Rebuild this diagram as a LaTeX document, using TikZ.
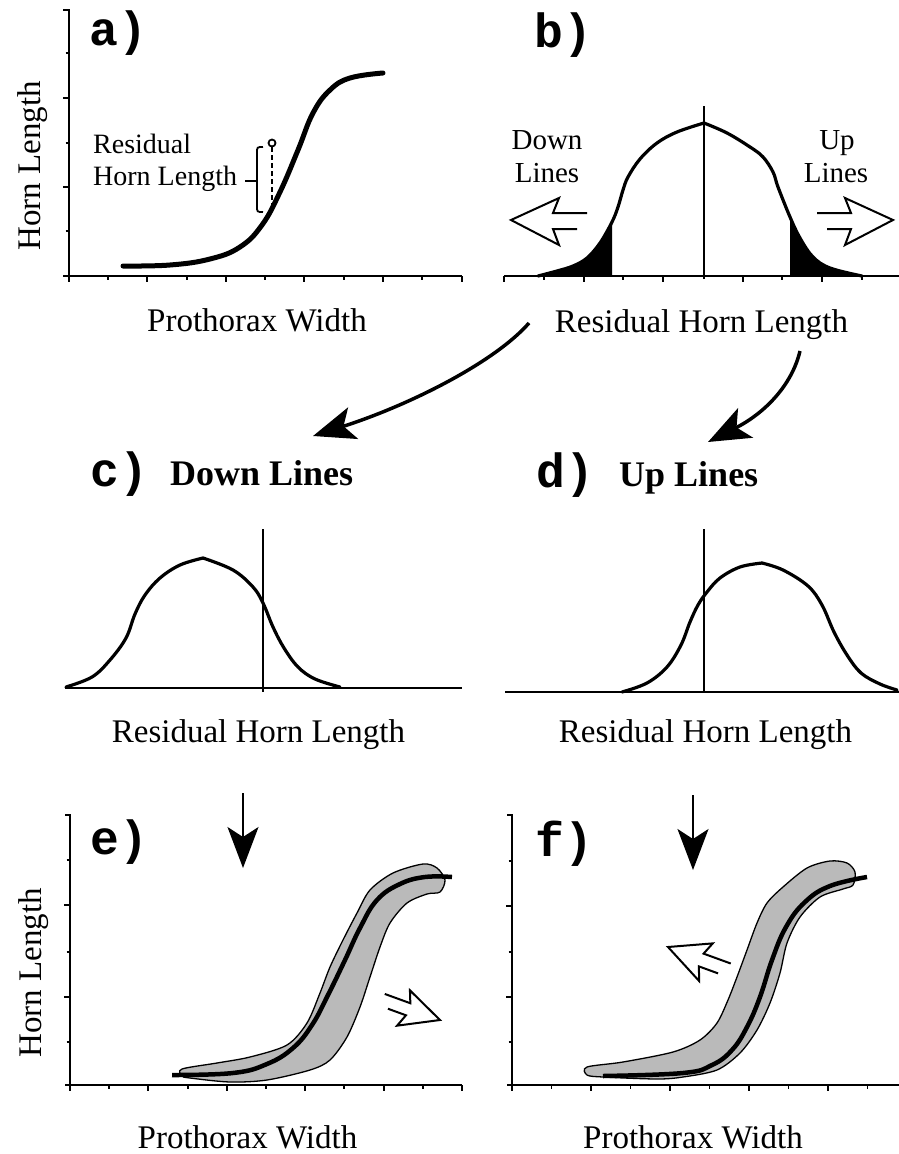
\documentclass[tikz,border=0pt]{standalone}
\usepackage{fontspec}
\setmainfont{Liberation Serif}
\setmonofont{Liberation Mono}
\usetikzlibrary{arrows.meta}
\begin{document}
\begin{tikzpicture}[x=1pt,y=-1pt,
  axis/.style={line width=2pt},
  tickmark/.style={line width=1.8pt},
  thickcurve/.style={line width=5pt, line cap=round, line join=round},
  bell/.style={line width=3.2pt, line join=round, line cap=round},
  band/.style={fill=black!27, draw=black, line width=1.3pt},
  lab/.style={font=\fontsize{33}{38}\selectfont, inner sep=0pt, anchor=base},
  annot/.style={font=\fontsize{28}{32}\selectfont, inner sep=0pt, anchor=base west},
  small/.style={font=\fontsize{29}{33}\selectfont, inner sep=0pt, anchor=base},
  panel/.style={font=\fontsize{48}{52}\selectfont\ttfamily\bfseries, inner sep=0pt, anchor=base west},
  paneltitle/.style={font=\fontsize{36}{40}\selectfont\bfseries, inner sep=0pt, anchor=base west},
  bigtip/.style={-{Stealth[length=42pt,width=33pt,inset=10pt]}, line width=3.5pt},
  downtip/.style={-{Stealth[length=41pt,width=31pt,inset=10pt]}, line width=2pt},
  hollowarrow/.pic={\draw[line width=2pt, line join=miter, fill=white]
     (-76,-7) -- (-42,-7) -- (-48,-22) -- (0,0) -- (-48,25) -- (-42,9) -- (-66,9);}
]
\useasboundingbox (0,0) rectangle (899,1154);

% ================= panel a =================
\draw[axis] (63,10) -- (69,10) -- (69,282);
\draw[axis] (63,276) -- (462,276);
\foreach \y in {98,187} \draw[tickmark] (63,\y) -- (69,\y);
\foreach \y in {53,143,231} \draw[tickmark] (65.5,\y) -- (69,\y);
\foreach \x in {147,226,304,383,462} \draw[tickmark] (\x,276) -- (\x,282);
\foreach \x in {108,187,265,344,422} \draw[tickmark] (\x,276) -- (\x,279.5);
\draw[thickcurve] plot[smooth, tension=0.7] coordinates {(123,266) (170,265) (210,259) (240,247) (262,225) (280,192) (298,150) (313,113) (330,90) (350,78) (383,73)};
\draw[line width=2.5pt, dash pattern=on 5pt off 3pt] (272,147) -- (272,205);
\draw[line width=1.8pt, fill=white] (272,143) circle[radius=3.5pt];
\draw[line width=1.8pt] (263,147) .. controls (257,147) .. (257,153) -- (257,206) .. controls (257,212) .. (263,212);
\draw[line width=1.8pt] (245,181) -- (257,181);
\node[panel] (alab) at (89,45) {a)};
\node[lab, rotate=90] (aylab) at (40,166) {Horn Length};
\node[lab] (axlab) at (257,331) {Prothorax Width};
\node[annot] (ares1) at (93,153) {Residual};
\node[annot] (ares2) at (93,185) {Horn Length};

% ================= panel b =================
\begin{scope}
  \clip (500,100) rectangle (612,277);
  \fill plot[smooth, tension=0.6] coordinates {(538,276) (557,271) (573,266) (587,258) (600,243) (612,222) (618,207) (623,190) (628,177) (640,159) (657,143) (677,132) (704,123)} -- (704,276) -- cycle;
\end{scope}
\begin{scope}
  \clip (790,100) rectangle (899,277);
  \fill plot[smooth, tension=0.6] coordinates {(704,123) (727,133) (750,147) (763,157) (773,172) (778,187) (790,217) (800,238) (813,257) (830,268) (862,276)} -- (704,276) -- cycle;
\end{scope}
\draw[bell] plot[smooth, tension=0.6] coordinates {(538,276) (557,271) (573,266) (587,258) (600,243) (612,222) (618,207) (623,190) (628,177) (640,159) (657,143) (677,132) (704,123)};
\draw[bell] plot[smooth, tension=0.6] coordinates {(704,123) (727,133) (750,147) (763,157) (773,172) (778,187) (790,217) (800,238) (813,257) (830,268) (862,276)};
\draw[axis] (504,276) -- (899,276);
\foreach \x in {504,584,663,743,822} \draw[tickmark] (\x,276) -- (\x,282);
\foreach \x in {544,623,782,862} \draw[tickmark] (\x,276) -- (\x,279.5);
\draw[line width=2pt] (704,106) -- (704,279);
\pic[xscale=-1] at (511,220) {hollowarrow};
\pic at (893,220) {hollowarrow};
\node[panel] (blab) at (534,47) {b)};
\node[small] (bdown1) at (547,149) {Down};
\node[small] (bdown2) at (547,182) {Lines};
\node[small] (bup1) at (837,149) {Up};
\node[small] (bup2) at (836,182) {Lines};
\node[lab] (bxlab) at (701.5,332) {Residual Horn Length};

% ================= connecting arrows =================
\coordinate (s1) at (529,323);
\coordinate (t1) at (313,436);
\coordinate (s2) at (800,351);
\coordinate (t2) at (708,442);
\draw[bigtip] (s1) .. controls (495,362) and (410,405) .. (t1);
\draw[bigtip] (s2) .. controls (792,385) and (765,413) .. (t2);

% ================= panel c =================
\node[panel] (clab) at (90,486) {c)};
\node[paneltitle] (ctitle) at (170,485) {Down Lines};
\draw[bell] plot[smooth, tension=0.6] coordinates {(66,687) (92,677) (110,660) (126,638) (135,614) (145,595) (160,578) (180,565) (203,558)};
\draw[bell] plot[smooth, tension=0.6] coordinates {(203,558) (233,570) (253,587) (263,603) (273,627) (284,648) (298,667) (315,679) (340,687)};
\draw[axis] (65,688) -- (462,688);
\draw[line width=2pt] (263,529) -- (263,692);
\node[lab] (cxlab) at (258.5,742) {Residual Horn Length};

% ================= panel d =================
\node[panel] (dlab) at (536,487) {d)};
\node[paneltitle] (dtitle) at (619,486) {Up Lines};
\draw[bell] plot[smooth, tension=0.6] coordinates {(622,692) (647,683) (667,667) (681,645) (690,622) (698,605) (707,592) (720,578) (740,567) (762,563)};
\draw[bell] plot[smooth, tension=0.6] coordinates {(762,563) (783,570) (808,586) (822,605) (834,632) (847,655) (861,673) (880,684) (897,690)};
\draw[axis] (505,692) -- (899,692);
\draw[line width=2pt] (704,529) -- (704,693);
\node[lab] (dxlab) at (705.5,742) {Residual Horn Length};

% ================= panel e =================
\draw[axis] (65,815) -- (70,815) -- (70,1091);
\draw[axis] (65,1085) -- (462,1085);
\foreach \y in {905,997} \draw[tickmark] (64,\y) -- (70,\y);
\foreach \y in {860,952,1042} \draw[tickmark] (66.5,\y) -- (70,\y);
\foreach \x in {148,227,305,384,462} \draw[tickmark] (\x,1085) -- (\x,1091);
\foreach \x in {109,188,266,344,423} \draw[tickmark] (\x,1085) -- (\x,1088.5);
\draw[band] plot[smooth cycle, tension=0.5] coordinates {(182,1069) (217,1063) (250,1057) (287,1045) (307,1023) (320,993) (330,967) (343,940) (357,913) (370,890) (393,873) (423,864) (437,868) (445,880) (440,892) (427,894) (407,903) (390,923) (380,947) (370,977) (360,1007) (347,1037) (330,1060) (310,1070) (267,1080) (230,1082) (190,1078) (182,1076)};
\draw[thickcurve, line width=4.5pt, line cap=butt] plot[smooth, tension=0.7] coordinates {(172,1075) (233,1073) (267,1064) (293,1048) (312,1025) (328,995) (345,960) (360,928) (377,900) (400,884) (425,877) (452,877)};
\coordinate (ea) at (243,793);
\coordinate (eb) at (243,868);
\draw[downtip] (ea) -- (eb);
\pic[rotate=-20, scale=0.8] at (440,1020) {hollowarrow};
\node[panel] (elab) at (90,854) {e)};
\node[lab, rotate=90] (eylab) at (41,973) {Horn Length};
\node[lab] (exlab) at (247.5,1148) {Prothorax Width};

% ================= panel f =================
\draw[axis] (507,815) -- (512,815) -- (512,1091);
\draw[axis] (507,1085) -- (899,1085);
\foreach \y in {906,997} \draw[tickmark] (506,\y) -- (512,\y);
\foreach \y in {861,952,1042} \draw[tickmark] (508.5,\y) -- (512,\y);
\foreach \x in {591,670,749,828} \draw[tickmark] (\x,1085) -- (\x,1091);
\foreach \x in {551.5,630.5,709.5,788.5,867.5} \draw[tickmark] (\x,1085) -- (\x,1088.5);
\draw[band] plot[smooth cycle, tension=0.5] coordinates {(587,1067) (623,1062) (673,1052) (700,1040) (717,1023) (728,1000) (737,977) (747,950) (757,923) (767,903) (783,887) (807,868) (830,861) (847,863) (855,872) (853,885) (843,889) (820,897) (800,917) (787,943) (780,973) (770,1003) (757,1030) (740,1053) (717,1070) (683,1077) (657,1079) (603,1077) (587,1075)};
\draw[thickcurve, line width=4.5pt, line cap=butt] plot[smooth, tension=0.7] coordinates {(603,1076) (683,1073) (712,1065) (732,1050) (747,1027) (760,997) (772,960) (786,927) (805,902) (830,886) (867,877)};
\coordinate (fa) at (693,795);
\coordinate (fb) at (693,870);
\draw[downtip] (fa) -- (fb);
\pic[rotate=-20, xscale=-1, scale=0.85] at (668,947) {hollowarrow};
\node[panel] (flab) at (535,856) {f)};
\node[lab] (fxlab) at (693,1148) {Prothorax Width};
\end{tikzpicture}
\end{document}
